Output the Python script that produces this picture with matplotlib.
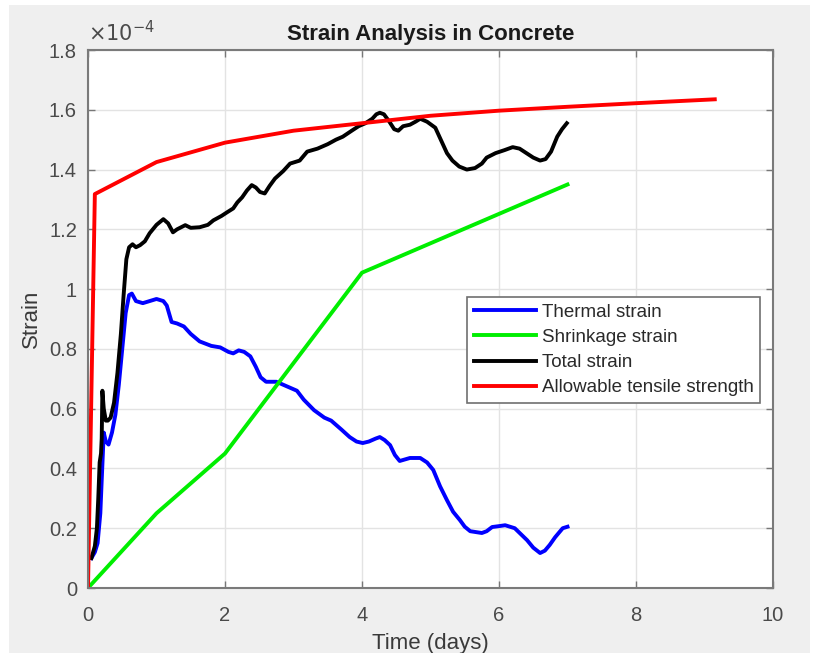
import numpy as np
import matplotlib
matplotlib.use("Agg")
import matplotlib.pyplot as plt
from matplotlib.ticker import FuncFormatter, FixedLocator
from matplotlib.patches import Rectangle

plt.rcParams['font.family'] = ['Liberation Sans', 'DejaVu Sans']

SCALE = 1e-4

thermal_x = [0.05, 0.10, 0.14, 0.18, 0.20, 0.23, 0.26, 0.30, 0.35, 0.40, 0.45, 0.50, 0.55, 0.60, 0.64,
             0.70, 0.80, 0.90, 1.00, 1.10, 1.15, 1.22, 1.30, 1.40, 1.50, 1.63, 1.80, 1.93, 2.05, 2.12,
             2.20, 2.28, 2.37, 2.45, 2.52, 2.60, 2.75, 2.90, 3.05, 3.15, 3.30, 3.45, 3.55, 3.70, 3.82,
             3.92, 4.01, 4.10, 4.20, 4.26, 4.33, 4.41, 4.48, 4.55, 4.70, 4.85, 4.95, 5.04, 5.14, 5.24,
             5.33, 5.43, 5.50, 5.58, 5.75, 5.82, 5.90, 6.00, 6.09, 6.16, 6.23, 6.32, 6.41, 6.50, 6.60,
             6.67, 6.74, 6.82, 6.93, 7.00]
thermal_y = [0.10, 0.12, 0.15, 0.25, 0.36, 0.52, 0.49, 0.48, 0.52, 0.58, 0.68, 0.80, 0.92, 0.98, 0.985,
             0.96, 0.953, 0.96, 0.967, 0.96, 0.945, 0.89, 0.885, 0.875, 0.85, 0.825, 0.81, 0.805, 0.79, 0.785,
             0.795, 0.79, 0.775, 0.74, 0.705, 0.69, 0.69, 0.675, 0.66, 0.63, 0.595, 0.57, 0.56, 0.53, 0.505,
             0.49, 0.485, 0.49, 0.50, 0.505, 0.495, 0.478, 0.445, 0.425, 0.435, 0.435, 0.42, 0.395, 0.34, 0.294,
             0.255, 0.227, 0.205, 0.19, 0.184, 0.19, 0.204, 0.207, 0.21, 0.205, 0.20, 0.18, 0.16, 0.135, 0.117,
             0.125, 0.144, 0.17, 0.20, 0.205]

shrink_x = [0, 1, 2, 4, 7]
shrink_y = [0, 0.25, 0.45, 1.055, 1.35]

total_x = [0.05, 0.10, 0.13, 0.15, 0.17, 0.19, 0.20, 0.21, 0.23, 0.26, 0.29, 0.33, 0.38, 0.43, 0.48,
           0.52, 0.56, 0.60, 0.65, 0.70, 0.76, 0.83, 0.90, 1.00, 1.10, 1.17, 1.24, 1.30, 1.42, 1.50,
           1.63, 1.75, 1.83, 1.95, 2.03, 2.12, 2.18, 2.25, 2.32, 2.39, 2.45, 2.51, 2.58, 2.65, 2.73,
           2.85, 2.95, 3.09, 3.20, 3.35, 3.50, 3.62, 3.72, 3.85, 3.95, 4.05, 4.15, 4.21, 4.26, 4.32,
           4.40, 4.47, 4.53, 4.60, 4.70, 4.78, 4.85, 4.95, 5.07, 5.15, 5.24, 5.32, 5.42, 5.53, 5.65,
           5.75, 5.82, 5.95, 6.08, 6.20, 6.30, 6.40, 6.50, 6.60, 6.68, 6.76, 6.85, 6.92, 6.99]
total_y = [0.10, 0.14, 0.20, 0.30, 0.42, 0.45, 0.50, 0.66, 0.60, 0.56, 0.56, 0.57, 0.62, 0.72, 0.85,
           0.98, 1.10, 1.14, 1.15, 1.14, 1.147, 1.16, 1.187, 1.215, 1.234, 1.22, 1.19, 1.20, 1.214, 1.205,
           1.207, 1.215, 1.23, 1.245, 1.257, 1.27, 1.29, 1.307, 1.33, 1.348, 1.34, 1.325, 1.32, 1.345, 1.37,
           1.395, 1.42, 1.43, 1.46, 1.47, 1.485, 1.50, 1.51, 1.53, 1.545, 1.555, 1.57, 1.585, 1.59, 1.585,
           1.56, 1.535, 1.53, 1.545, 1.55, 1.56, 1.57, 1.56, 1.54, 1.50, 1.455, 1.43, 1.41, 1.40, 1.405,
           1.42, 1.44, 1.455, 1.465, 1.475, 1.47, 1.455, 1.44, 1.43, 1.435, 1.46, 1.51, 1.535, 1.555]

allow_x = [0, 0.1, 1, 2, 3, 4, 5, 6, 7, 8, 9.15]
allow_y = [0, 1.318, 1.425, 1.49, 1.53, 1.555, 1.58, 1.597, 1.61, 1.622, 1.635]

labels = ['Thermal strain', 'Shrinkage strain', 'Total strain', 'Allowable tensile strength']
colors = ['#0000ff', '#00ee00', '#000000', '#ff0000']
xticks = [0, 2, 4, 6, 8, 10]
yticks = [0, 0.2, 0.4, 0.6, 0.8, 1.0, 1.2, 1.4, 1.6, 1.8]

W, H = 828, 653
fig = plt.figure(figsize=(W / 100, H / 100), dpi=100, facecolor='white')
bg = Rectangle((9 / W, 0), (810 - 9) / W, (H - 5) / H, transform=fig.transFigure,
               facecolor='#efefef', edgecolor='none', zorder=-10)
fig.add_artist(bg)

ax = fig.add_axes([88 / W, (H - 588) / H, 685 / W, 538 / H])
ax.set_zorder(1)
ax.set_facecolor('white')

series = [(thermal_x, thermal_y), (shrink_x, shrink_y), (total_x, total_y), (allow_x, allow_y)]
for (xs, ys), lab, c in zip(series, labels, colors):
    ax.plot(xs, np.array(ys) * SCALE, color=c, lw=2.8, label=lab, solid_joinstyle='round')

ax.set_xlim(0, 10)
ax.set_ylim(0, 1.8 * SCALE)
ax.xaxis.set_major_locator(FixedLocator(xticks))
ax.yaxis.set_major_locator(FixedLocator([v * SCALE for v in yticks]))
ax.yaxis.set_major_formatter(FuncFormatter(lambda v, p: f"{v / SCALE:g}"))
ax.grid(True, color='#e3e3e3', lw=1)
ax.set_axisbelow(True)

tick_col = '#4a4a4a'
ax.tick_params(direction='in', length=5, width=1, colors='#777777', labelcolor=tick_col,
               labelsize=14.5, top=True, right=True)
ax.tick_params(axis='x', pad=13)
ax.tick_params(axis='y', pad=8)
for s in ax.spines.values():
    s.set_color('#7a7a7a')
    s.set_linewidth(1.5)

ax.set_title('Strain Analysis in Concrete', fontsize=16, fontweight='bold', color='#1a1a1a', pad=7)
ax.set_xlabel('Time (days)', fontsize=16, color='#3a3a3a', labelpad=6)
ax.set_ylabel('Strain', fontsize=16, color='#3a3a3a', labelpad=5)
ax.text(0.0, 1.008, r'$\times10^{-4}$', transform=ax.transAxes, fontsize=15, color=tick_col,
        ha='left', va='bottom')

leg = ax.legend(loc='upper right', bbox_to_anchor=((760 - 88) / 685, (588 - 297) / 538),
                borderaxespad=0, fontsize=13.5, handlelength=3.3, labelspacing=0.43,
                handletextpad=0.32, borderpad=0.35, fancybox=False, framealpha=1,
                edgecolor='#707070')
leg.get_frame().set_linewidth(1.2)
for t in leg.get_texts():
    t.set_color('#2a2a2a')

fig.savefig('out.png', dpi=100, facecolor=fig.get_facecolor())
